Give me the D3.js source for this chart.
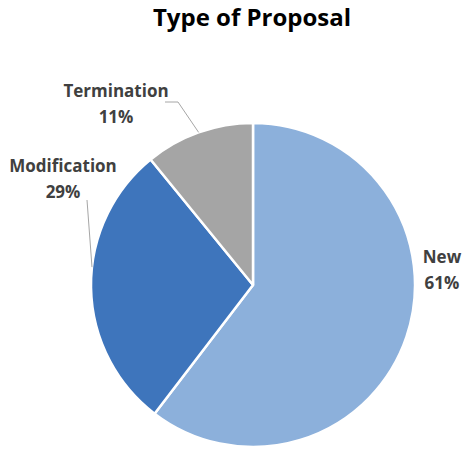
<!DOCTYPE html>
<html>
<head>
<meta charset="utf-8">
<script src="https://cdn.jsdelivr.net/npm/d3@7"></script>
<style>
  html, body { margin: 0; padding: 0; background: #fff; }
  svg text { font-family: "Open Sans", "Liberation Sans", sans-serif; font-weight: 700; }
</style>
</head>
<body>
<svg id="chart" width="470" height="449"></svg>
<script>
// Proposal types and their shares (percent)
const categories = ["New", "Modification", "Termination"];
const values = [61, 29, 11];
const colors = ["#8CB0DB", "#3E75BC", "#A5A5A5"];

const svg = d3.select("#chart");
const cx = 253, cy = 285, radius = 162;

svg.append("text")
  .attr("x", 252).attr("y", 26)
  .attr("text-anchor", "middle")
  .attr("font-size", 24)
  .attr("fill", "#000")
  .text("Type of Proposal");

const data = categories.map((c, i) => ({ name: c, value: values[i], color: colors[i] }));

const pie = d3.pie().value(d => d.value).sort(null);
const arc = d3.arc().innerRadius(0).outerRadius(radius);
const arcs = pie(data);

const g = svg.append("g").attr("transform", `translate(${cx},${cy})`);

g.selectAll("path")
  .data(arcs)
  .join("path")
  .attr("d", arc)
  .attr("fill", d => d.data.color)
  .attr("stroke", "#fff")
  .attr("stroke-width", 2.5)
  .attr("stroke-linejoin", "round");

// Label placement around the pie (relative to the pie centre)
const labelPos = {
  "New": { x: 189, y: -22 },
  "Modification": { x: -190, y: -113 },
  "Termination": { x: -137, y: -188 }
};

// Leader lines from label to slice edge
function edgePoint(d, frac) {
  const a = d.startAngle + (d.endAngle - d.startAngle) * frac;
  return [Math.sin(a) * radius, -Math.cos(a) * radius];
}
const leaders = {
  "Modification": d => [[-166, -85], edgePoint(d, 0.57)],
  "Termination": d => [[-88, -183], [-75, -183], edgePoint(d, 0.5)]
};

arcs.forEach(d => {
  const name = d.data.name;
  const lp = labelPos[name];
  if (leaders[name]) {
    g.append("path")
      .attr("d", d3.line()(leaders[name](d)))
      .attr("fill", "none")
      .attr("stroke", "#A6A6A6")
      .attr("stroke-width", 1);
  }
  const t = g.append("text")
    .attr("text-anchor", "middle")
    .attr("font-size", 17)
    .attr("fill", "#404040");
  t.append("tspan").attr("x", lp.x).attr("y", lp.y).text(name);
  t.append("tspan").attr("x", lp.x).attr("y", lp.y + 25.5)
    .text(Math.round(d.data.value) + "%");
});
</script>
</body>
</html>
